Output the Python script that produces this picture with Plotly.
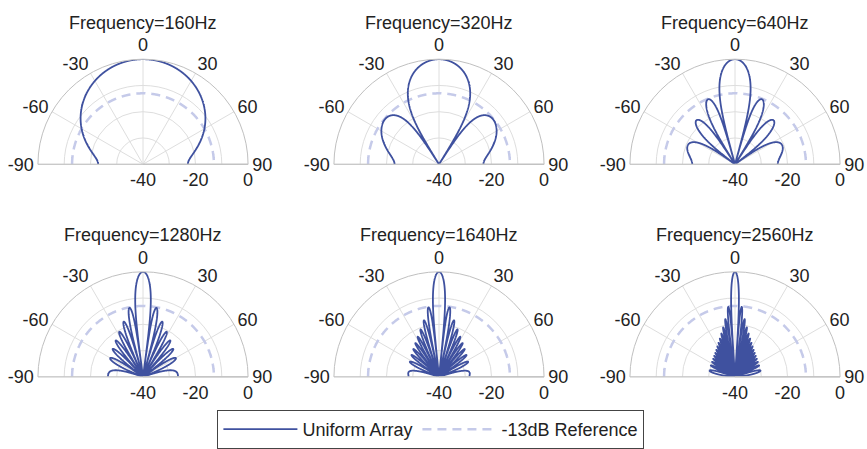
import numpy as np
import plotly.graph_objects as go

# ---- data ----
FREQS_HZ = [160, 320, 640, 1280, 1640, 2560]
TITLES = ["Frequency=160Hz", "Frequency=320Hz", "Frequency=640Hz",
          "Frequency=1280Hz", "Frequency=1640Hz", "Frequency=2560Hz"]
N_ELEMENTS = 32          # uniform line array (side-lobe floor ~ -30 dB at 2560 Hz)
SPACING_M = 0.0625       # element spacing (null positions / lobe counts)
SOUND_SPEED = 343.0
REF_DB = -13.0
R_MIN_DB = -40.0
THETA_DEG = np.linspace(-90, 90, 3601)
ANG_TICKS = [-90, -60, -30, 0, 30, 60, 90]
RAD_TICKS = [-40, -30, -20, -10, 0]
RAD_TEXT = ["-40", "", "-20", "", "0"]


def pattern_db(f):
    psi = 2 * np.pi * f * SPACING_M * np.sin(np.radians(THETA_DEG)) / SOUND_SPEED
    num = np.sin(N_ELEMENTS * psi / 2)
    den = N_ELEMENTS * np.sin(psi / 2)
    safe = np.where(np.abs(den) < 1e-12, 1.0, den)
    af = np.where(np.abs(den) < 1e-12, 1.0, num / safe)
    db = 20 * np.log10(np.abs(af) + 1e-12)
    return np.maximum(db, R_MIN_DB)


LINE_COLOR = "#3f519f"
REF_COLOR = "#c5cae9"
GRID = "#dedede"
AXLINE = "#c0c0c0"
FONT = "Liberation Sans, Arial, sans-serif"

W, H = 867, 449
centers = [(143, 164), (439, 164), (735, 164), (143, 379), (439, 379), (735, 379)]
RD = 106.25  # domain half-width giving a ~102 px drawn radius

fig = go.Figure()
layout = dict(width=W, height=H, margin=dict(l=0, r=0, t=0, b=0),
              paper_bgcolor="white", font=dict(family=FONT, size=18, color="#222"),
              annotations=[])

for i, f in enumerate(FREQS_HZ):
    key = "polar" if i == 0 else f"polar{i+1}"
    cx, cy = centers[i]
    bottom = cy + 2.1
    dom_x = [(cx - RD) / W, (cx + RD) / W]
    dom_y = [1 - bottom / H, 1 - (bottom - RD) / H]
    fig.add_trace(go.Scatterpolar(
        r=np.full_like(THETA_DEG, REF_DB), theta=THETA_DEG, mode="lines",
        line=dict(color=REF_COLOR, width=2.5, dash="9px,6px"),
        name="-13dB Reference", legendrank=2, showlegend=(i == 0), subplot=key))
    fig.add_trace(go.Scatterpolar(
        r=pattern_db(f), theta=THETA_DEG, mode="lines",
        line=dict(color=LINE_COLOR, width=1.8),
        name="Uniform Array", legendrank=1, showlegend=(i == 0), subplot=key))
    layout[key] = dict(
        domain=dict(x=dom_x, y=dom_y),
        sector=[0, 180],
        bgcolor="white",
        angularaxis=dict(rotation=90, direction="clockwise", tickmode="array",
                         tickvals=ANG_TICKS, ticktext=[str(v) for v in ANG_TICKS],
                         showline=True, linecolor=AXLINE, linewidth=1,
                         gridcolor=GRID, ticks="", tickfont=dict(size=18)),
        radialaxis=dict(range=[R_MIN_DB, 0], tickmode="array", tickvals=RAD_TICKS,
                        ticktext=RAD_TEXT, angle=0, side="clockwise",
                        showline=True, linecolor=AXLINE, gridcolor=GRID,
                        ticks="", tickfont=dict(size=18), tickangle=0),
    )
    layout["annotations"].append(dict(
        text=TITLES[i], x=cx / W, y=1 - (cy - 141) / H, xref="paper", yref="paper",
        xanchor="center", yanchor="middle", showarrow=False, font=dict(size=18)))

layout["legend"] = dict(orientation="h", x=0.497, xanchor="center", y=1 - 415 / H,
                        yanchor="top", bordercolor="#444", borderwidth=1,
                        font=dict(size=18), itemwidth=74, traceorder="normal")
fig.update_layout(**layout)
fig.write_html("out.html")
